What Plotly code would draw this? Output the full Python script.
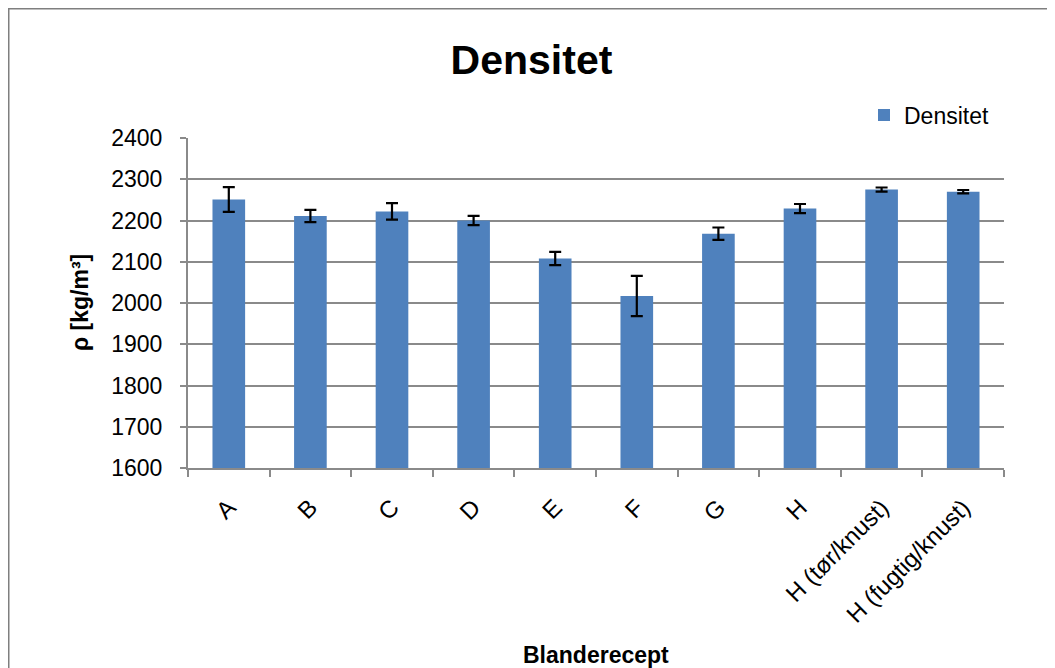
import plotly.graph_objects as go

categories = ["A", "B", "C", "D", "E", "F", "G", "H", "H (tør/knust)", "H (fugtig/knust)"]
densitet = [2251, 2211, 2222, 2200, 2108, 2017, 2168, 2229, 2275, 2270]
std_err = [30, 15, 20, 11, 16, 49, 15, 11, 5, 4]
y_ticks = [1600, 1700, 1800, 1900, 2000, 2100, 2200, 2300, 2400]

# page body has an 8px margin; work in window pixels and convert
OFF = 8
W, H = 1055 - OFF, 668 - OFF
L, R, T, B = 188 - OFF, 1004 - OFF, 138 - OFF, 468 - OFF
pw, ph = R - L, B - T

def px(xw):
    return (xw - OFF - L) / pw

def py(yw):
    return (B - (yw - OFF)) / ph

FONT = "Liberation Sans"
GRID = "#8a8a8a"

fig = go.Figure()
fig.add_trace(go.Bar(
    x=categories, y=densitet, name="Densitet",
    marker=dict(color="#4F81BD", line=dict(width=0)),
    error_y=dict(type="data", array=std_err, visible=True,
                 color="black", thickness=2.2, width=6),
))

fig.update_layout(
    width=W, height=H, autosize=False,
    margin=dict(l=L, r=W - R, t=T, b=H - B, autoexpand=False),
    paper_bgcolor="white", plot_bgcolor="white",
    bargap=0.6,
    font=dict(family=FONT, size=23, color="black"),
    title=dict(text="Densitet", x=0.5, xanchor="center", y=1 - (60 - OFF) / H, yanchor="middle",
               font=dict(family=FONT, size=41, weight="bold", color="black")),
    showlegend=True,
    legend=dict(x=px(864), y=py(115), xanchor="left", yanchor="middle",
                font=dict(family=FONT, size=23), bgcolor="rgba(0,0,0,0)",
                itemwidth=30),
    xaxis=dict(
        type="category", tickangle=-45, tickson="boundaries",
        ticks="outside", ticklen=7, tickcolor=GRID, tickwidth=2,
        showline=True, linecolor=GRID, linewidth=2,
        showgrid=False, automargin=False, ticklabelstandoff=14,
        tickfont=dict(family=FONT, size=24),
    ),
    yaxis=dict(
        range=[1600, 2400], tickvals=y_ticks,
        ticks="outside", ticklen=6, tickcolor=GRID, tickwidth=2,
        showline=True, linecolor=GRID, linewidth=2,
        showgrid=True, gridcolor=GRID, gridwidth=2,
        zeroline=False, automargin=False, ticklabelstandoff=13,
        tickfont=dict(family=FONT, size=23),
    ),
)

fig.add_annotation(text="Blanderecept", xref="paper", yref="paper",
                   x=0.5, y=py(655), xanchor="center", yanchor="middle",
                   showarrow=False, font=dict(family=FONT, size=23, weight="bold"))
fig.add_annotation(text="ρ [kg/m³]", xref="paper", yref="paper",
                   x=px(80), y=py(303), xanchor="center", yanchor="middle",
                   textangle=-90, showarrow=False,
                   font=dict(family=FONT, size=23, weight="bold"))

fig.add_shape(type="rect", xref="paper", yref="paper",
              x0=px(8), y0=py(700), x1=px(1080), y1=py(8),
              line=dict(color="#7f7f7f", width=3), fillcolor="rgba(0,0,0,0)", layer="below")

fig.write_html("out.html")
